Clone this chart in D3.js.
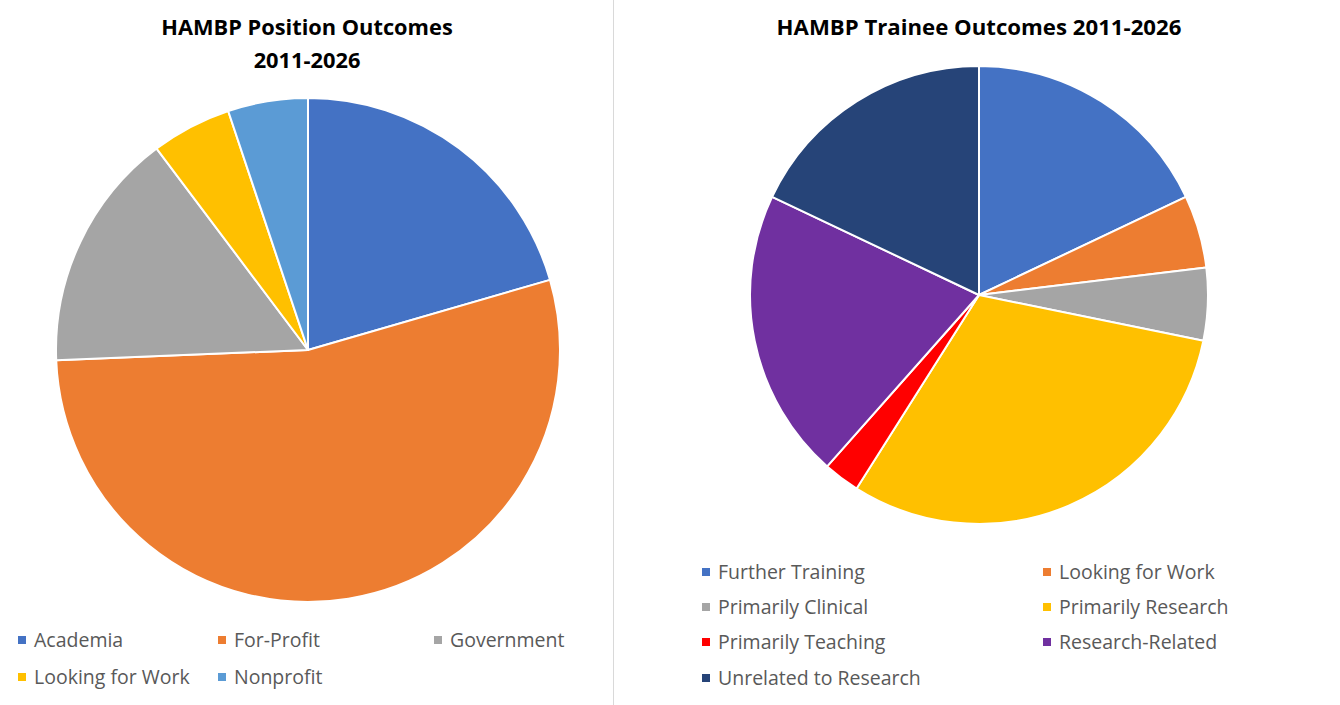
<!DOCTYPE html>
<html>
<head>
<meta charset="utf-8">
<script src="https://cdn.jsdelivr.net/npm/d3@7"></script>
<style>
    body { margin: 0; background: #fff; }
    text { font-family: "Open Sans", "Noto Sans", sans-serif; }
</style>
</head>
<body>
<script>
// left chart: position outcomes (counts)
const positionLabels = ["Academia", "For-Profit", "Government", "Looking for Work", "Nonprofit"];
const positionValues = [8, 21, 6, 2, 2];
const positionColors = ["#4472C4", "#ED7D31", "#A5A5A5", "#FFC000", "#5B9BD5"];

// right chart: trainee outcomes (counts)
const traineeLabels = ["Further Training", "Looking for Work", "Primarily Clinical", "Primarily Research",
    "Primarily Teaching", "Research-Related", "Unrelated to Research"];
const traineeValues = [7, 2, 2, 12, 1, 8, 7];
const traineeColors = ["#4472C4", "#ED7D31", "#A5A5A5", "#FFC000", "#FF0000", "#7030A0", "#264478"];

const width = 1340, height = 705;

const svg = d3.select("body")
    .append("svg")
    .attr("width", width)
    .attr("height", height)
    .style("background-color", "#fff");

// divider between the two charts
svg.append("line")
    .attr("x1", 613.5).attr("x2", 613.5)
    .attr("y1", 0).attr("y2", height)
    .attr("stroke", "#d9d9d9")
    .attr("stroke-width", 1);

function drawPie(labels, values, colors, cx, cy, r) {
    let pie = d3.pie().sort(null).value(d => d);
    let arc = d3.arc().innerRadius(0).outerRadius(r);

    svg.append("g")
        .attr("transform", "translate(" + cx + "," + cy + ")")
        .selectAll("path")
        .data(pie(values))
        .enter()
        .append("path")
        .attr("d", arc)
        .attr("fill", (d, i) => colors[i])
        .attr("stroke", "#fff")
        .attr("stroke-width", 2)
        .attr("stroke-linejoin", "round");
}

function drawLegend(labels, colors, cols, rowY) {
    let g = svg.append("g");
    labels.forEach(function (label, i) {
        let x = cols[i % cols.length];
        let y = rowY[Math.floor(i / cols.length)];
        g.append("rect")
            .attr("x", x).attr("y", y - 4)
            .attr("width", 8).attr("height", 8)
            .attr("fill", colors[i]);
        g.append("text")
            .attr("x", x + 16).attr("y", y)
            .attr("dy", "0.35em")
            .attr("font-size", 19.5)
            .attr("fill", "#595959")
            .text(label);
    });
}

function title(lines, cx, y0, step, size) {
    lines.forEach(function (line, i) {
        svg.append("text")
            .attr("x", cx).attr("y", y0 + i * step)
            .attr("text-anchor", "middle")
            .attr("font-size", size)
            .attr("font-weight", "bold")
            .attr("fill", "#000")
            .text(line);
    });
}

// left chart
title(["HAMBP Position Outcomes", "2011-2026"], 307, 35, 33, 21.8);
drawPie(positionLabels, positionValues, positionColors, 308, 350, 252);
drawLegend(positionLabels, positionColors, [18, 218, 434], [640, 677]);

// right chart
title(["HAMBP Trainee Outcomes 2011-2026"], 979, 35, 33, 22.2);
drawPie(traineeLabels, traineeValues, traineeColors, 979, 295, 229);
drawLegend(traineeLabels, traineeColors, [702, 1043], [572, 607, 642, 678]);
</script>
</body>
</html>
